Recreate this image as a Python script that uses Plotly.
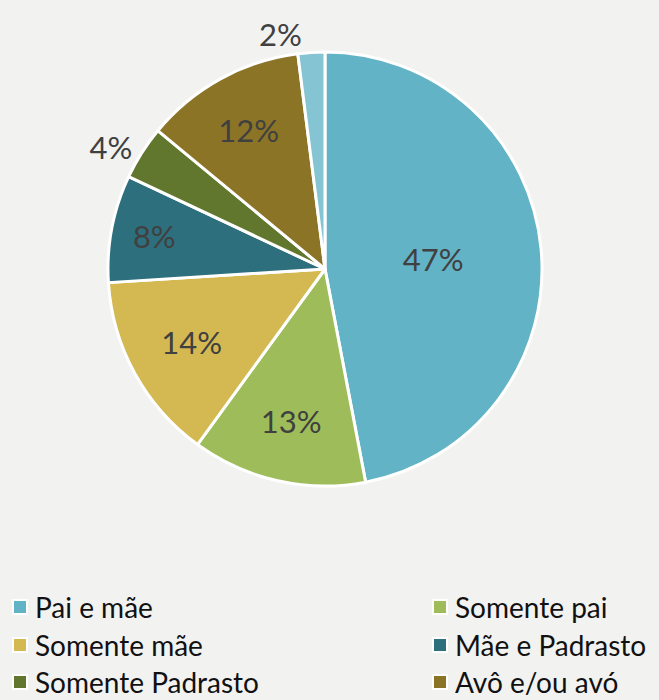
import plotly.graph_objects as go

categories = ["Pai e mãe", "Somente pai", "Somente mãe", "Mãe e Padrasto",
              "Somente Padrasto", "Avô e/ou avó", "Outros"]
values = [47, 13, 14, 8, 4, 12, 2]
colors = ["#62b3c6", "#9ebd5a", "#d4b952", "#2e6f7e", "#61772d", "#8c7427", "#85c4d3"]
text_positions = ["inside", "inside", "inside", "inside", "outside", "inside", "outside"]

legend_items = 6  # visible legend entries (last row is cut off in the picture)

FONT = "Lato"
W, H = 659, 700

fig = go.Figure()
fig.add_trace(go.Pie(
    labels=categories,
    values=values,
    sort=False,
    direction="clockwise",
    rotation=0,
    marker=dict(colors=colors, line=dict(color="white", width=3)),
    texttemplate="%{value}%",
    textposition=text_positions,
    insidetextorientation="horizontal",
    textfont=dict(family=FONT, size=31, color="#404040"),
    outsidetextfont=dict(family=FONT, size=31, color="#404040"),
    insidetextfont=dict(family=FONT, size=31, color="#404040"),
    domain=dict(x=[108 / W, 542 / W], y=[214 / H, 648 / H]),
    showlegend=False,
    hoverinfo="label+percent",
    automargin=False,
))

# legend drawn in two columns
col_x = [13, 433]
row_y = [607, 645, 682]
shapes = []
annotations = []
for i in range(legend_items):
    r, c = divmod(i, 2)
    x0 = col_x[c]
    yc = row_y[r]
    shapes.append(dict(type="rect", xref="paper", yref="paper",
                       x0=x0 / W, x1=(x0 + 14) / W,
                       y0=1 - (yc + 7) / H, y1=1 - (yc - 7) / H,
                       fillcolor=colors[i], line=dict(color="white", width=2)))
    annotations.append(dict(xref="paper", yref="paper", x=(x0 + 20) / W, y=1 - yc / H,
                            xanchor="left", yanchor="middle", showarrow=False,
                            height=34, valign="middle",
                            text=categories[i],
                            font=dict(family=FONT, size=28, color="#111111")))

fig.update_layout(
    width=W, height=H,
    margin=dict(l=0, r=0, t=0, b=0),
    paper_bgcolor="#f2f2f1",
    plot_bgcolor="#f2f2f1",
    shapes=shapes,
    annotations=annotations,
)

fig.write_html("out.html", config={"displayModeBar": False},
               post_script="document.body.style.margin='0';")
